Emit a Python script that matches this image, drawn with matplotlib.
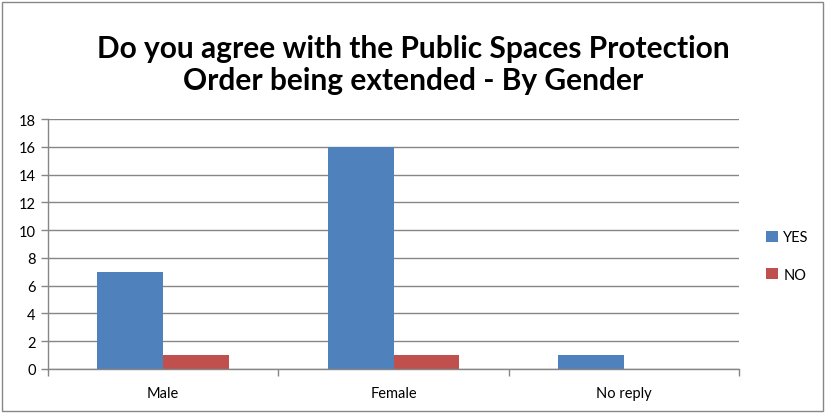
import matplotlib.pyplot as plt
from matplotlib.patches import Rectangle
import numpy as np

categories = ['Male', 'Female', 'No reply']
yes_values = [7, 16, 1]
no_values = [1, 1, 0]
series_names = ['YES', 'NO']

plt.rcParams['font.family'] = ['Lato', 'DejaVu Sans']

fig = plt.figure(figsize=(8.27, 4.14), dpi=100)
ax = fig.add_axes([48 / 827, 44 / 414, 691 / 827, 250 / 414])

x = np.arange(len(categories))
w = 1 / 3.5
ax.bar(x - w / 2, yes_values, w, color='#4F81BD', label=series_names[0])
ax.bar(x + w / 2, no_values, w, color='#C0504D', label=series_names[1])

ax.set_xlim(-0.5, len(categories) - 0.5)
ax.set_ylim(0, 18)
ax.set_yticks(range(0, 19, 2))
ax.yaxis.grid(True, color='#868686', linewidth=1)
ax.set_axisbelow(True)

ax.set_xticks(x)
ax.set_xticklabels(categories)
ax.set_xticks(np.arange(-0.5, len(categories), 1), minor=True)
ax.tick_params(axis='x', which='major', length=0, pad=12, labelsize=10.5)
ax.tick_params(axis='x', which='minor', length=5, color='#868686', width=1)
ax.tick_params(axis='y', length=5, color='#868686', width=1, labelsize=10.5, pad=4)

for s in ['top', 'right']:
    ax.spines[s].set_visible(False)
for s in ['left', 'bottom']:
    ax.spines[s].set_color('#868686')
    ax.spines[s].set_linewidth(1)

fig.text(0.5, 1 - 65 / 414, 'Do you agree with the Public Spaces Protection\nOrder being extended - By Gender',
         ha='center', va='center', fontsize=21.5, fontweight='bold', linespacing=1.15)

ax.legend(loc='center left', bbox_to_anchor=(1.02, 0.452), frameon=False,
          fontsize=10.5, handlelength=0.8, handleheight=0.8, labelspacing=1.6, handletextpad=0.4)

fig.patches.append(Rectangle((2 / 827, 2 / 414), 821 / 827, 409 / 414, transform=fig.transFigure,
                             fill=False, edgecolor='#878787', linewidth=1))

fig.savefig('out.png', dpi=100)
